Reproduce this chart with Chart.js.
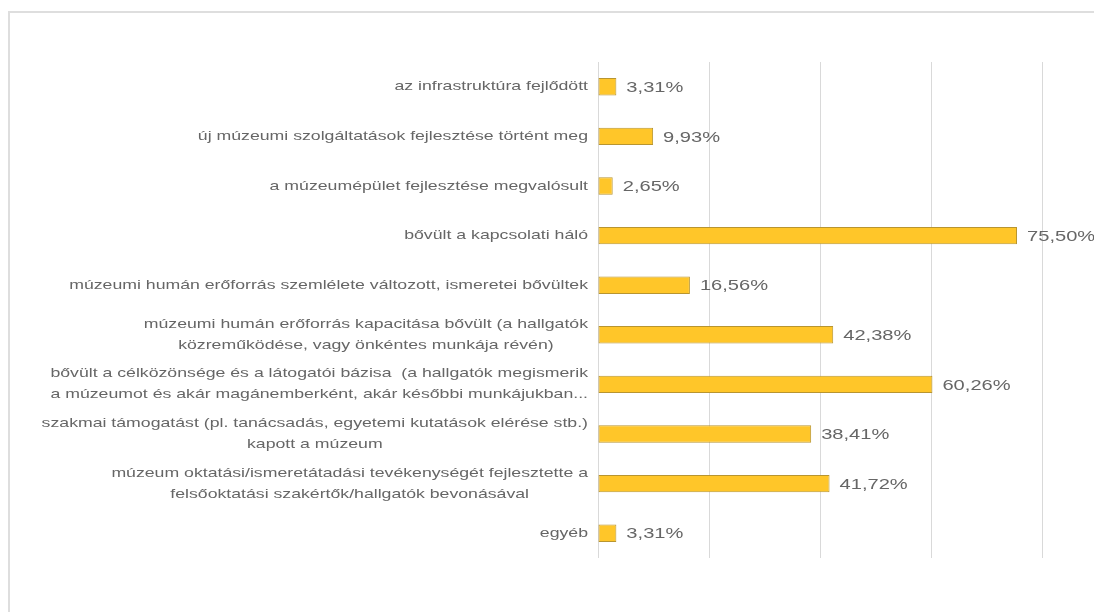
<!DOCTYPE html>
<html>
<head>
<meta charset="utf-8">
<script src="https://cdn.jsdelivr.net/npm/chart.js@4"></script>
<style>
  html, body { margin: 0; padding: 0; background: #fff; }
  #wrap { position: relative; width: 1094px; height: 612px; overflow: hidden; }
  #frame { position: absolute; left: 8px; top: 11px; width: 1200px; height: 700px;
           border-top: 2px solid #dedede; border-left: 2px solid #dedede; }
  canvas { position: absolute; left: 0; top: 0; }
</style>
</head>
<body>
<div id="wrap">
  <div id="frame"></div>
  <canvas id="chart" width="1094" height="612"></canvas>
</div>
<script>
const categories = [
    ['az infrastruktúra fejlődött'],
    ['új múzeumi szolgáltatások fejlesztése történt meg'],
    ['a múzeumépület fejlesztése megvalósult'],
    ['bővült a kapcsolati háló'],
    ['múzeumi humán erőforrás szemlélete változott, ismeretei bővültek'],
    ['múzeumi humán erőforrás kapacitása bővült (a hallgatók',
     'közreműködése, vagy önkéntes munkája révén)'],
    ['bővült a célközönsége és a látogatói bázisa  (a hallgatók megismerik',
     'a múzeumot és akár magánemberként, akár későbbi munkájukban...'],
    ['szakmai támogatást (pl. tanácsadás, egyetemi kutatások elérése stb.)',
     'kapott a múzeum'],
    ['múzeum oktatási/ismeretátadási tevékenységét fejlesztette a',
     'felsőoktatási szakértők/hallgatók bevonásával'],
    ['egyéb']
];
const values = [3.31, 9.93, 2.65, 75.50, 16.56, 42.38, 60.26, 38.41, 41.72, 3.31];
const xTicks = [0, 20, 40, 60, 80];

const textColor = '#666666';
const fontFamily = '"Liberation Sans", Arial, sans-serif';

// draws one line of text, stretched sideways, with its left edge at x
function wideText(c, text, x, y, stretch) {
    c.save();
    c.translate(x, y);
    c.scale(stretch, 1);
    c.fillText(text, 0, 0);
    c.restore();
}

/* category labels, centred line by line like the office chart */
const categoryLabels = {
    id: 'categoryLabels',
    afterDraw(chart) {
        const c = chart.ctx;
        const y = chart.scales.y;
        const right = chart.chartArea.left - 10;
        const lineH = 21;
        const sx = 1.36;
        c.save();
        c.font = '13px ' + fontFamily;
        c.fillStyle = textColor;
        c.textAlign = 'left';
        c.textBaseline = 'middle';
        categories.forEach((lines, i) => {
            const cy = y.getPixelForValue(i);
            const widths = lines.map(l => c.measureText(l).width * sx);
            const w = Math.max(...widths);
            const cx = right - w / 2;
            const top = cy - (lines.length - 1) * lineH / 2;
            lines.forEach((l, k) => wideText(c, l, cx - widths[k] / 2, top + k * lineH, sx));
        });
        c.restore();
    }
};

/* value labels at the end of each bar */
const valueLabels = {
    id: 'valueLabels',
    afterDatasetsDraw(chart) {
        const c = chart.ctx;
        const meta = chart.getDatasetMeta(0);
        c.save();
        c.font = '15px ' + fontFamily;
        c.fillStyle = textColor;
        c.textAlign = 'left';
        c.textBaseline = 'middle';
        meta.data.forEach((bar, i) => {
            wideText(c, values[i].toFixed(2).replace('.', ',') + '%', bar.x + 10, bar.y + 1, 1.34);
        });
        c.restore();
    }
};

new Chart(document.getElementById('chart'), {
    type: 'bar',
    data: {
        labels: categories.map(l => l.join(' ')),
        datasets: [{
            data: values,
            backgroundColor: '#FFC629',
            borderColor: '#B89530',
            borderWidth: 1,
            borderSkipped: false,
            barPercentage: 1,
            categoryPercentage: 0.35
        }]
    },
    options: {
        indexAxis: 'y',
        responsive: false,
        animation: false,
        layout: { padding: { top: 62, right: 52, bottom: 54, left: 0 } },
        plugins: { legend: { display: false }, tooltip: { enabled: false } },
        scales: {
            x: {
                min: xTicks[0],
                max: xTicks[xTicks.length - 1],
                afterBuildTicks: s => { s.ticks = xTicks.map(v => ({ value: v })); },
                ticks: { display: false },
                grid: { color: '#d9d9d9', lineWidth: 1, drawTicks: false },
                border: { display: false }
            },
            y: {
                ticks: { display: false },
                grid: { display: false },
                border: { display: false },
                afterFit: s => { s.width = 598; }
            }
        }
    },
    plugins: [categoryLabels, valueLabels]
});
</script>
</body>
</html>
